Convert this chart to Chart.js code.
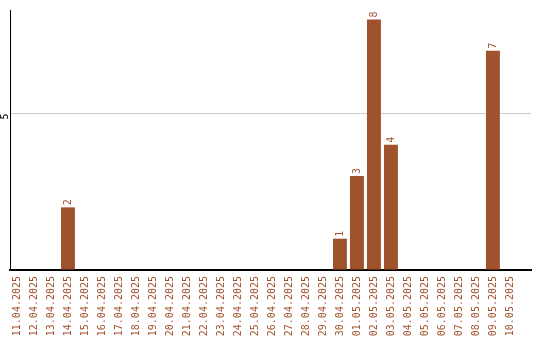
<!DOCTYPE html>
<html>
<head>
<meta charset="utf-8">
<script src="https://cdn.jsdelivr.net/npm/chart.js@4"></script>
<style>
  html, body { margin: 0; padding: 0; background: #fff; }
  #wrap { width: 540px; height: 340px; }
</style>
</head>
<body>
<div id="wrap"><canvas id="chart"></canvas></div>
<script>
// Chart data
const dates = [
  '11.04.2025', '12.04.2025', '13.04.2025', '14.04.2025', '15.04.2025',
  '16.04.2025', '17.04.2025', '18.04.2025', '19.04.2025', '20.04.2025',
  '21.04.2025', '22.04.2025', '23.04.2025', '24.04.2025', '25.04.2025',
  '26.04.2025', '27.04.2025', '28.04.2025', '29.04.2025', '30.04.2025',
  '01.05.2025', '02.05.2025', '03.05.2025', '04.05.2025', '05.05.2025',
  '06.05.2025', '07.05.2025', '08.05.2025', '09.05.2025', '10.05.2025'
];
const counts = [
  0, 0, 0, 2, 0, 0, 0, 0, 0, 0,
  0, 0, 0, 0, 0, 0, 0, 0, 0, 1,
  3, 8, 4, 0, 0, 0, 0, 0, 7, 0
];
const yTicks = [5];

const BROWN = '#a0522d';
const FONT = '10px "DejaVu Sans Mono", monospace';

// rotated value labels above bars + rotated y tick
const rotatedText = {
  id: 'rotatedText',
  afterDatasetsDraw(chart) {
    const ctx = chart.ctx;
    const meta = chart.getDatasetMeta(0);
    ctx.save();
    ctx.font = FONT;
    ctx.fillStyle = BROWN;
    ctx.textAlign = 'left';
    ctx.textBaseline = 'middle';
    meta.data.forEach((bar, i) => {
      const v = counts[i];
      if (!v) return;
      ctx.save();
      ctx.translate(bar.x, bar.y - 2);
      ctx.rotate(-Math.PI / 2);
      ctx.fillText(String(v), 0, 0);
      ctx.restore();
    });
    // y tick labels
    const y = chart.scales.y;
    ctx.fillStyle = '#000';
    ctx.textAlign = 'right';
    yTicks.forEach(t => {
      ctx.save();
      ctx.translate(5, y.getPixelForValue(t));
      ctx.rotate(-Math.PI / 2);
      ctx.fillText(String(t), 0, 0);
      ctx.restore();
    });
    ctx.restore();
  }
};

new Chart(document.getElementById('chart'), {
  type: 'bar',
  data: {
    datasets: [{
      data: counts.map((c, i) => ({ x: i, y: c })),
      backgroundColor: BROWN,
      borderWidth: 0,
      barPercentage: 0.82,
      categoryPercentage: 1.0
    }]
  },
  options: {
    responsive: true,
    maintainAspectRatio: false,
    animation: false,
    layout: { autoPadding: false, padding: { left: 10, top: 10, right: 9, bottom: 0 } },
    plugins: {
      legend: { display: false },
      tooltip: { enabled: false }
    },
    scales: {
      x: {
        type: 'linear',
        offset: false,
        min: -0.41,
        max: 30.24,
        afterBuildTicks(scale) {
          scale.ticks = dates.map((d, i) => ({ value: i }));
        },
        afterFit(scale) { scale.height = 70; },
        grid: { display: false, drawTicks: false },
        border: { display: true, color: '#000', width: 2 },
        ticks: {
          color: BROWN,
          font: { family: '"DejaVu Sans Mono", monospace', size: 10 },
          minRotation: 90,
          maxRotation: 90,
          autoSkip: false,
          padding: 6,
          callback: v => dates[v]
        }
      },
      y: {
        min: 0,
        max: 8.3,
        afterBuildTicks(scale) {
          scale.ticks = [{ value: 0 }].concat(yTicks.map(v => ({ value: v })));
        },
        afterFit(scale) { scale.width = 0; },
        grid: { color: '#cccccc', lineWidth: 1, drawTicks: false },
        border: { display: true, color: '#000', width: 1 },
        ticks: { display: false }
      }
    }
  },
  plugins: [rotatedText]
});
</script>
</body>
</html>
